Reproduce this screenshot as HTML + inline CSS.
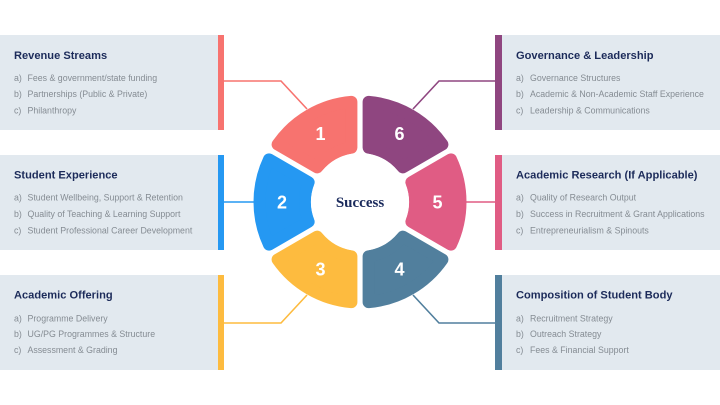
<!DOCTYPE html>
<html>
<head>
<meta charset="utf-8">
<style>
html,body{margin:0;padding:0;background:#fff;}
svg{display:block;}
.t{font-family:"Liberation Sans",sans-serif;font-weight:bold;font-size:11.1px;fill:#1c2b5a;}
.i{font-family:"Liberation Sans",sans-serif;font-size:8.8px;fill:#858c93;}
.n{font-family:"Liberation Sans",sans-serif;font-weight:bold;font-size:18px;fill:#fff;text-anchor:middle;}
</style>
</head>
<body>
<svg width="720" height="405" viewBox="0 0 720 405" xmlns="http://www.w3.org/2000/svg">
  <!-- Left panels -->
  <rect x="0" y="35" width="218" height="95" fill="#e2e9ef"/>
  <rect x="218" y="35" width="6" height="95" fill="#f7736f"/>
  <rect x="0" y="155" width="218" height="95" fill="#e2e9ef"/>
  <rect x="218" y="155" width="6" height="95" fill="#2598f2"/>
  <rect x="0" y="275" width="218" height="95" fill="#e2e9ef"/>
  <rect x="218" y="275" width="6" height="95" fill="#fdbb3f"/>
  <!-- Right panels -->
  <rect x="502" y="35" width="218" height="95" fill="#e2e9ef"/>
  <rect x="495" y="35" width="7" height="95" fill="#8f4680"/>
  <rect x="502" y="155" width="218" height="95" fill="#e2e9ef"/>
  <rect x="495" y="155" width="7" height="95" fill="#e05c84"/>
  <rect x="502" y="275" width="218" height="95" fill="#e2e9ef"/>
  <rect x="495" y="275" width="7" height="95" fill="#517f9d"/>

  <!-- Connectors -->
  <g fill="none" stroke-width="1.6">
    <polyline points="224,81 281,81 307,109" stroke="#f7736f"/>
    <polyline points="224,202 255,202" stroke="#2598f2"/>
    <polyline points="224,323 281,323 307,295" stroke="#fdbb3f"/>
    <polyline points="495,81 439,81 413,109" stroke="#8f4680"/>
    <polyline points="466,202 495,202" stroke="#e05c84"/>
    <polyline points="495,323 439,323 413,295" stroke="#517f9d"/>
  </g>

  <!-- Segments -->
  <g transform="translate(360,202)" stroke-width="12" stroke-linejoin="round">
    <path d="M -8.60 -100.13 A 100.5 100.5 0 0 0 -82.41 -57.52 L -42.74 -34.61 A 55 55 0 0 1 -8.60 -54.32 Z" fill="#f7736f" stroke="#f7736f"/>
    <path d="M 8.60 -100.13 A 100.5 100.5 0 0 1 82.41 -57.52 L 42.74 -34.61 A 55 55 0 0 0 8.60 -54.32 Z" fill="#8f4680" stroke="#8f4680"/>
    <path d="M -8.60 100.13 A 100.5 100.5 0 0 1 -82.41 57.52 L -42.74 34.61 A 55 55 0 0 0 -8.60 54.32 Z" fill="#fdbb3f" stroke="#fdbb3f"/>
    <path d="M 8.60 100.13 A 100.5 100.5 0 0 0 82.41 57.52 L 42.74 34.61 A 55 55 0 0 1 8.60 54.32 Z" fill="#517f9d" stroke="#517f9d"/>
    <path d="M -91.01 -42.62 A 100.5 100.5 0 0 0 -91.01 42.62 L -51.35 19.71 A 55 55 0 0 1 -51.35 -19.71 Z" fill="#2598f2" stroke="#2598f2"/>
    <path d="M 91.01 -42.62 A 100.5 100.5 0 0 1 91.01 42.62 L 51.35 19.71 A 55 55 0 0 0 51.35 -19.71 Z" fill="#e05c84" stroke="#e05c84"/>
    <circle cx="0" cy="0" r="49" fill="#fff"/>
  </g>

  <!-- Numbers -->
  <text class="n" x="320.5" y="140">1</text>
  <text class="n" x="399.5" y="140">6</text>
  <text class="n" x="282" y="208.5">2</text>
  <text class="n" x="437.5" y="208.5">5</text>
  <text class="n" x="320.5" y="275.5">3</text>
  <text class="n" x="399.5" y="275.5">4</text>

  <text x="360" y="207" text-anchor="middle" font-family="'Liberation Serif',serif" font-weight="bold" font-size="15" fill="#1a2a5c">Success</text>

  <!-- Left texts -->
  <text class="t" x="14" y="59">Revenue Streams</text>
  <text class="i" x="14" y="81">a)</text><text class="i" x="27.5" y="81">Fees &amp; government/state funding</text>
  <text class="i" x="14" y="97">b)</text><text class="i" x="27.5" y="97">Partnerships (Public &amp; Private)</text>
  <text class="i" x="14" y="113.5">c)</text><text class="i" x="27.5" y="113.5">Philanthropy</text>

  <text class="t" x="14" y="178.5">Student Experience</text>
  <text class="i" x="14" y="200.7">a)</text><text class="i" x="27.5" y="200.7">Student Wellbeing, Support &amp; Retention</text>
  <text class="i" x="14" y="217">b)</text><text class="i" x="27.5" y="217">Quality of Teaching &amp; Learning Support</text>
  <text class="i" x="14" y="233.7">c)</text><text class="i" x="27.5" y="233.7">Student Professional Career Development</text>

  <text class="t" x="14" y="298.5">Academic Offering</text>
  <text class="i" x="14" y="321.3">a)</text><text class="i" x="27.5" y="321.3">Programme Delivery</text>
  <text class="i" x="14" y="337">b)</text><text class="i" x="27.5" y="337">UG/PG Programmes &amp; Structure</text>
  <text class="i" x="14" y="353">c)</text><text class="i" x="27.5" y="353">Assessment &amp; Grading</text>

  <!-- Right texts -->
  <text class="t" x="516" y="59">Governance &amp; Leadership</text>
  <text class="i" x="516" y="81">a)</text><text class="i" x="530" y="81">Governance Structures</text>
  <text class="i" x="516" y="97">b)</text><text class="i" x="530" y="97">Academic &amp; Non-Academic Staff Experience</text>
  <text class="i" x="516" y="113.5">c)</text><text class="i" x="530" y="113.5">Leadership &amp; Communications</text>

  <text class="t" x="516" y="178.5">Academic Research (If Applicable)</text>
  <text class="i" x="516" y="200.7">a)</text><text class="i" x="530" y="200.7">Quality of Research Output</text>
  <text class="i" x="516" y="217">b)</text><text class="i" x="530" y="217">Success in Recruitment &amp; Grant Applications</text>
  <text class="i" x="516" y="233.7">c)</text><text class="i" x="530" y="233.7">Entrepreneurialism &amp; Spinouts</text>

  <text class="t" x="516" y="298.5">Composition of Student Body</text>
  <text class="i" x="516" y="321.3">a)</text><text class="i" x="530" y="321.3">Recruitment Strategy</text>
  <text class="i" x="516" y="337">b)</text><text class="i" x="530" y="337">Outreach Strategy</text>
  <text class="i" x="516" y="353">c)</text><text class="i" x="530" y="353">Fees &amp; Financial Support</text>
</svg>
</body>
</html>
